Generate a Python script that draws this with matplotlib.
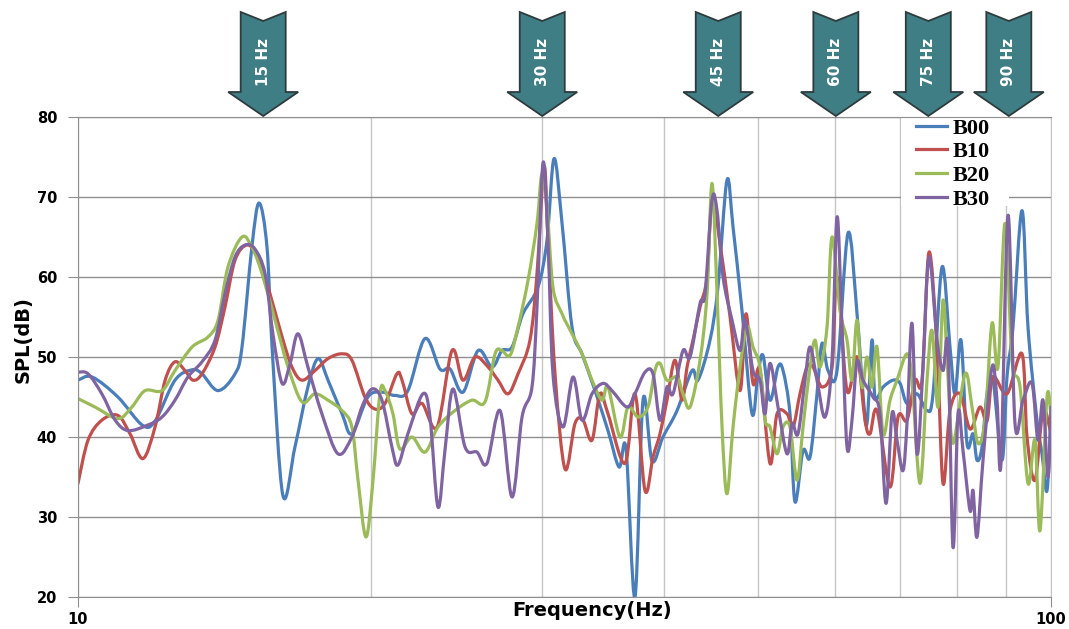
import numpy as np
import matplotlib
matplotlib.use("Agg")
import matplotlib.pyplot as plt
from matplotlib.path import Path
from matplotlib.patches import PathPatch, Polygon, Rectangle
from matplotlib.lines import Line2D
from matplotlib.transforms import IdentityTransform

# ---------------- data ----------------
series_names = ["B00", "B10", "B20", "B30"]
series_colors = ["#4a7ebb", "#c0504d", "#9bbb59", "#8064a2"]

b00_freq = [10.00, 10.34, 10.99, 11.64, 12.00, 12.58, 13.10, 13.41, 13.93, 14.50, 14.74, 15.09,
            15.35, 15.64, 15.83, 16.24, 16.71, 17.23, 17.65, 18.07, 18.68, 19.12, 19.86, 20.53,
            21.17, 21.83, 22.73, 23.55, 24.12, 24.87, 25.77, 26.64, 27.27, 27.93, 28.66, 29.70,
            30.34, 30.85, 31.44, 32.19, 32.96, 33.99, 35.05, 35.98, 36.58, 37.36, 38.08, 38.90,
            39.92, 41.27, 42.76, 43.37, 44.62, 45.47, 46.45, 47.12, 48.13, 49.29, 49.99, 50.58,
            51.43, 52.41, 53.04, 53.92, 54.56, 55.61, 56.54, 57.48, 58.16, 59.00, 60.27, 61.86,
            63.19, 64.09, 64.70, 65.47, 65.94, 67.20, 68.81, 69.96, 71.12, 72.83, 74.57, 75.64,
            77.27, 78.74, 79.68, 80.82, 81.97, 83.15, 83.94, 84.94, 85.95, 87.18, 89.05, 90.11,
            91.40, 93.37, 94.70, 96.74, 97.89, 99.06, 100.0]
b00_spl = [47.1, 47.5, 45.0, 41.5, 42.0, 47.1, 48.4, 47.9, 45.8, 47.9, 51.2, 63.75,
           69.25, 63.75, 51.2, 32.7, 38.75, 46.25, 49.8, 47.1, 42.9, 40.4, 45.0, 45.6,
           45.2, 45.8, 52.3, 48.5, 48.5, 45.6, 50.8, 48.75, 50.8, 51.25, 55.4, 58.75,
           64.6, 74.8, 66.7, 53.75, 50.4, 45.8, 40.8, 36.25, 38.5, 20.0, 44.6, 37.0,
           40.0, 43.3, 48.3, 47.1, 52.1, 58.75, 72.1, 66.25, 55.8, 42.9, 47.9, 50.2,
           44.6, 48.75, 48.3, 42.9, 31.9, 38.3, 37.5, 45.4, 51.7, 48.3, 48.3, 65.5,
           55.4, 45.4, 41.7, 52.1, 45.0, 46.25, 47.1, 46.7, 44.2, 45.4, 43.3, 45.4,
           61.25, 51.25, 45.4, 52.1, 39.2, 40.4, 37.1, 38.75, 45.4, 47.1, 37.1, 47.5,
           53.75, 68.3, 53.75, 42.1, 37.9, 33.3, 43.0]

b10_freq = [10.00, 10.24, 10.58, 10.99, 11.31, 11.66, 12.00, 12.29, 12.58, 12.88, 13.13, 13.41,
            13.83, 14.16, 14.50, 14.92, 15.31, 15.68, 16.21, 16.59, 16.99, 17.52, 18.07, 18.68,
            19.12, 19.72, 20.19, 20.68, 21.27, 21.53, 22.04, 22.57, 23.39, 24.23, 24.87, 25.59,
            26.39, 27.02, 27.67, 28.33, 29.14, 29.63, 30.13, 30.41, 30.92, 31.66, 32.42, 33.04,
            33.75, 34.39, 35.05, 36.49, 37.36, 38.26, 38.99, 39.64, 40.30, 41.07, 41.76, 42.26,
            42.86, 43.58, 44.31, 44.83, 45.69, 46.79, 47.91, 48.59, 49.40, 50.23, 51.43, 52.29,
            53.54, 54.31, 55.21, 56.14, 56.94, 58.16, 59.56, 60.27, 61.71, 63.19, 64.40, 65.16,
            66.25, 68.32, 69.63, 71.12, 72.48, 73.69, 74.92, 76.36, 77.45, 78.74, 80.63, 82.56,
            84.53, 85.95, 87.18, 90.11, 93.37, 94.48, 96.29, 98.13, 100.0]
b10_spl = [34.2, 39.6, 42.1, 42.7, 40.4, 37.3, 41.25, 47.1, 49.4, 48.3, 47.1, 47.9,
           51.25, 56.25, 62.1, 64.0, 62.5, 58.75, 52.5, 48.75, 47.1, 48.3, 49.8, 50.4,
           49.6, 45.0, 43.5, 44.2, 47.9, 47.1, 42.9, 44.2, 41.25, 50.8, 47.1, 50.0,
           48.75, 47.1, 45.4, 47.9, 52.1, 60.4, 73.75, 64.6, 47.9, 36.0, 41.7, 42.1,
           39.6, 45.4, 42.9, 36.7, 45.4, 33.3, 37.5, 40.4, 44.6, 49.6, 44.6, 48.75,
           52.1, 56.25, 60.0, 69.6, 64.2, 55.0, 45.8, 55.4, 46.7, 48.3, 36.7, 42.9,
           42.9, 41.25, 45.4, 48.75, 48.75, 46.25, 48.75, 60.0, 45.8, 50.0, 42.1, 40.4,
           43.3, 33.75, 42.5, 42.1, 47.1, 47.1, 63.1, 51.25, 34.2, 43.3, 45.4, 41.0,
           43.75, 42.0, 47.5, 45.4, 50.4, 40.0, 34.6, 43.3, 40.4]

b20_freq = [10.00, 10.41, 10.99, 11.36, 11.72, 12.20, 12.58, 13.10, 13.60, 13.93, 14.26, 14.74,
            15.09, 15.46, 15.94, 16.44, 16.99, 17.52, 18.07, 18.68, 19.12, 19.40, 19.77, 20.10,
            20.43, 20.68, 21.07, 21.42, 22.04, 22.73, 23.44, 24.40, 25.40, 26.20, 26.83, 27.27,
            27.80, 28.33, 29.01, 29.63, 29.98, 30.34, 30.77, 31.44, 32.19, 32.96, 33.75, 34.56,
            35.05, 36.06, 36.75, 37.63, 38.53, 39.17, 39.64, 40.30, 41.27, 41.86, 42.56, 43.58,
            44.31, 44.83, 45.37, 45.91, 46.45, 47.12, 47.91, 48.71, 49.40, 50.23, 50.83, 51.43,
            52.29, 53.04, 53.92, 54.82, 55.61, 56.54, 57.21, 57.89, 58.86, 59.56, 60.70, 61.71,
            62.44, 63.19, 63.94, 64.70, 65.47, 66.25, 67.20, 68.32, 69.46, 71.12, 71.97, 73.35,
            74.57, 75.46, 76.54, 77.45, 78.37, 79.30, 81.59, 82.95, 84.14, 85.54, 86.97, 88.21,
            89.69, 91.19, 92.93, 94.70, 96.29, 97.43, 99.06, 100.0]
b20_spl = [44.8, 43.75, 42.3, 43.75, 45.8, 45.8, 48.3, 51.25, 52.5, 54.6, 61.25, 65.0,
           63.75, 60.4, 54.6, 48.75, 44.4, 45.4, 44.6, 43.3, 41.25, 34.6, 27.5, 34.6,
           45.4, 45.8, 42.9, 38.5, 40.0, 38.1, 41.25, 43.3, 44.6, 44.4, 50.4, 50.8,
           50.2, 53.75, 59.6, 66.7, 72.9, 68.75, 58.75, 55.4, 52.9, 50.4, 47.1, 44.6,
           46.25, 40.0, 43.75, 42.5, 43.75, 48.3, 49.2, 47.1, 47.5, 45.4, 43.75, 49.6,
           57.9, 71.7, 57.9, 41.25, 32.9, 41.25, 48.75, 53.75, 51.25, 48.75, 42.1, 41.25,
           37.9, 41.25, 41.25, 34.6, 41.25, 48.75, 52.1, 48.75, 53.75, 65.0, 55.8, 52.1,
           47.1, 54.6, 46.25, 50.0, 46.25, 51.25, 40.4, 44.6, 47.1, 50.4, 47.1, 34.2,
           47.1, 53.3, 43.75, 57.1, 47.5, 39.2, 47.9, 43.75, 39.2, 42.1, 54.2, 48.75,
           66.7, 49.6, 46.25, 34.2, 39.6, 28.3, 45.0, 42.5]

b30_freq = [10.00, 10.24, 10.58, 10.92, 11.26, 11.80, 12.20, 12.58, 12.97, 13.41, 13.83, 14.16,
            14.50, 14.85, 15.20, 15.57, 15.86, 16.21, 16.52, 16.83, 17.23, 17.81, 18.50, 19.12,
            19.58, 20.05, 20.53, 21.02, 21.32, 21.83, 22.62, 23.00, 23.44, 23.83, 24.29, 24.99,
            25.71, 26.32, 27.15, 27.93, 28.60, 29.28, 29.63, 30.05, 30.41, 30.77, 31.51, 32.27,
            32.96, 33.75, 34.64, 35.38, 36.66, 37.36, 38.26, 38.99, 39.64, 40.30, 40.88, 41.86,
            42.56, 43.58, 44.10, 44.83, 45.37, 46.02, 47.01, 47.91, 48.48, 49.40, 50.23, 50.83,
            51.43, 52.41, 53.54, 54.18, 54.95, 55.87, 56.54, 57.48, 58.58, 59.56, 60.27, 60.98,
            61.71, 62.44, 63.19, 64.09, 65.63, 66.72, 67.68, 68.64, 69.46, 70.45, 71.12, 71.97,
            72.83, 73.87, 74.92, 76.36, 77.45, 78.37, 79.30, 80.25, 81.20, 82.56, 83.15, 83.94,
            85.14, 86.97, 88.00, 88.84, 90.33, 91.83, 93.59, 95.60, 96.97, 98.13, 99.29, 100.0]
b30_spl = [48.1, 47.9, 45.4, 42.1, 40.8, 41.5, 42.5, 44.6, 47.5, 49.4, 52.1, 57.9,
           62.5, 64.0, 63.5, 60.4, 52.9, 46.7, 49.2, 52.9, 48.75, 42.9, 37.9, 40.0,
           43.75, 46.0, 44.6, 38.75, 36.5, 40.4, 45.4, 42.5, 31.25, 38.3, 46.0, 38.75,
           38.1, 36.7, 43.3, 32.5, 42.5, 46.25, 56.25, 74.2, 64.6, 47.9, 41.25, 47.5,
           42.1, 45.4, 46.7, 45.8, 43.75, 45.4, 48.1, 47.9, 42.1, 46.25, 45.4, 50.8,
           50.0, 56.7, 57.9, 69.6, 68.3, 60.0, 54.6, 50.8, 54.6, 48.3, 47.1, 42.9,
           49.2, 43.75, 37.9, 41.7, 40.4, 47.1, 51.25, 47.1, 42.5, 49.6, 67.5, 53.75,
           38.75, 42.1, 49.4, 47.1, 45.0, 42.9, 31.7, 42.9, 39.6, 35.8, 41.7, 54.2,
           37.9, 48.75, 62.5, 52.1, 48.3, 51.25, 26.25, 42.9, 38.3, 30.8, 33.3, 27.5,
           37.1, 48.75, 44.6, 36.7, 67.7, 41.7, 44.6, 46.7, 39.6, 44.6, 35.0, 43.75]

series_freq = [b00_freq, b10_freq, b20_freq, b30_freq]
series_spl = [b00_spl, b10_spl, b20_spl, b30_spl]

arrow_labels = ["15 Hz", "30 Hz", "45 Hz", "60 Hz", "75 Hz", "90 Hz"]
arrow_freqs = [15.5, 30.0, 45.5, 60.1, 74.8, 90.5]

y_ticks = [20, 30, 40, 50, 60, 70, 80]
x_major = [10, 100]
x_minor = [20, 30, 40, 50, 60, 70, 80, 90]


def smooth_path(freq, spl):
    """Excel-style smoothed line: Catmull-Rom -> cubic Bezier in log-frequency space."""
    x = np.log10(np.asarray(freq, float))
    y = np.asarray(spl, float)
    xp = np.concatenate([[x[0]], x, [x[-1]]])
    yp = np.concatenate([[y[0]], y, [y[-1]]])
    verts = [(x[0], y[0])]
    codes = [Path.MOVETO]
    for i in range(len(x) - 1):
        p0 = np.array([xp[i], yp[i]])
        p1 = np.array([xp[i + 1], yp[i + 1]])
        p2 = np.array([xp[i + 2], yp[i + 2]])
        p3 = np.array([xp[i + 3], yp[i + 3]])
        c1 = p1 + (p2 - p0) / 6.0
        c2 = p2 - (p3 - p1) / 6.0
        c1[0] = min(max(c1[0], p1[0]), p2[0])
        c2[0] = min(max(c2[0], p1[0]), p2[0])
        verts += [tuple(c1), tuple(c2), tuple(p2)]
        codes += [Path.CURVE4] * 3
    verts = np.array(verts)
    verts[:, 0] = 10 ** verts[:, 0]
    return Path(verts, codes)


W, H = 1069, 629
fig = plt.figure(figsize=(W / 100, H / 100), dpi=100)
ax = fig.add_axes([78 / W, 32 / H, 973 / W, 480 / H])
ax.set_xscale("log")
ax.set_xlim(10, 100)
ax.set_ylim(20, 80)

ax.set_xticks(x_major)
ax.set_xticks(x_minor, minor=True)
ax.set_xticklabels([str(v) for v in x_major], fontweight="bold", fontsize=10.5)
ax.set_xticklabels([], minor=True)
ax.set_yticks(y_ticks)
ax.set_yticklabels([str(v) for v in y_ticks], fontweight="bold", fontsize=10.5)
ax.tick_params(axis="x", which="major", length=7, color="#8f8f8f", pad=4)
ax.tick_params(axis="x", which="minor", length=0)
ax.tick_params(axis="y", length=7, color="#8f8f8f", pad=8)

ax.set_axisbelow(True)
ax.yaxis.grid(True, color="#8f8f8f", lw=1.0)
ax.xaxis.grid(True, which="both", color="#c6c6c6", lw=1.0)
for s in ["left", "bottom", "top"]:
    ax.spines[s].set_color("#8f8f8f")
ax.spines["right"].set_color("#c6c6c6")

# white block behind the legend (as in reference)
ax.add_patch(Rectangle(((901 - 78) / 973, (597 - 206) / 480), (1009 - 901) / 973, 1 - (597 - 206) / 480,
                       transform=ax.transAxes, facecolor="white", edgecolor="none", zorder=1))

handles = []
for name, col, fr, sp in zip(series_names, series_colors, series_freq, series_spl):
    p = PathPatch(smooth_path(fr, sp), facecolor="none", edgecolor=col, lw=2.3,
                  capstyle="round", joinstyle="round", zorder=2)
    ax.add_patch(p)
    handles.append(Line2D([], [], color=col, lw=2.3, label=name))

leg = ax.legend(handles=handles, loc="upper left", bbox_to_anchor=((916 - 78) / 973, 0.998),
                frameon=False, borderpad=0.0, borderaxespad=0.0, handlelength=1.4,
                handletextpad=0.25, labelspacing=0.14,
                prop={"family": "Liberation Serif", "weight": "bold", "size": 16})
leg.set_zorder(5)

fig.text(592 / W, (H - 611) / H, "Frequency(Hz)", ha="center", va="center",
         fontsize=14, fontweight="bold")
fig.text(23 / W, (H - 340) / H, "SPL(dB)", ha="center", va="center", rotation=90,
         fontsize=14, fontweight="bold")

# annotation arrows above the plot
fig.canvas.draw()
tip_y = H - 116
for lab, f in zip(arrow_labels, arrow_freqs):
    cx = ax.transData.transform((f, 50))[0]
    pts = [(cx, tip_y), (cx + 35, tip_y + 24), (cx + 22.5, tip_y + 24), (cx + 22.5, tip_y + 104),
           (cx, tip_y + 95), (cx - 22.5, tip_y + 104), (cx - 22.5, tip_y + 24), (cx - 35, tip_y + 24)]
    poly = Polygon(pts, closed=True, facecolor="#3f7e84", edgecolor="#2e3b3d", lw=1.3,
                   transform=IdentityTransform())
    fig.add_artist(poly)
    fig.text(cx / W, (tip_y + 54) / H, lab, rotation=90, ha="center", va="center",
             color="white", fontsize=11, fontweight="bold")

fig.savefig("out.png", dpi=100, facecolor="white")
